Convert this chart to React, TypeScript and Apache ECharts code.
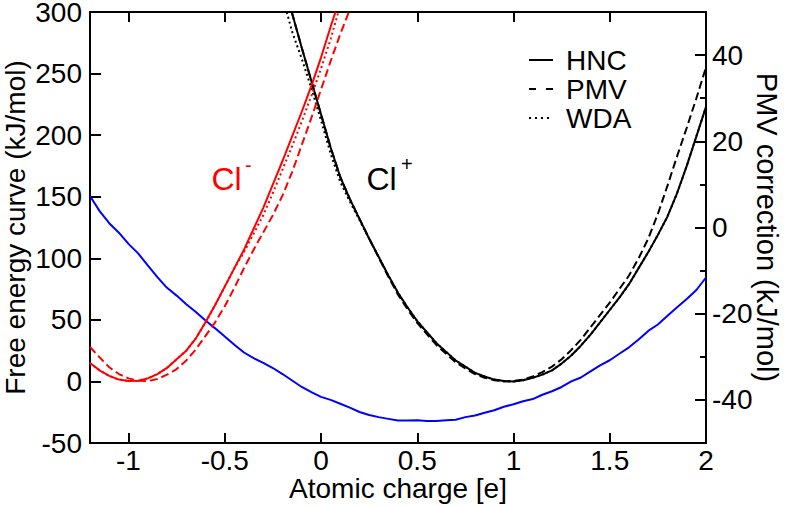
import React, { useEffect, useRef } from "react";
import * as echarts from "echarts";

const FONT = '"Liberation Sans", Arial, Helvetica, sans-serif';

// Tick values
const X_TICKS = [-1, -0.5, 0, 0.5, 1, 1.5, 2];
const Y_RIGHT_MAJOR = [-40, -20, 0, 20, 40];
const Y_RIGHT_MINOR = [-30, -10, 10, 30];

// Cl- (red) free energy curves, kJ/mol
const clMinusHncX = [-1.2, -1.15, -1.1, -1.05, -1, -0.95, -0.9, -0.85, -0.8, -0.75, -0.7, -0.65, -0.6, -0.55, -0.5, -0.45, -0.4, -0.35, -0.3, -0.25, -0.2, -0.15, -0.1, -0.05, 0, 0.05, 0.075];
const clMinusHnc = [15, 9, 4.5, 1.5, 0.3, 0.5, 2.5, 6, 11, 18, 25, 35, 48, 62, 77, 92, 107, 124, 141, 160, 179, 199, 219, 240, 263, 288, 300];

const clMinusPmvX = [-1.2, -1.15, -1.1, -1.05, -1, -0.95, -0.9, -0.85, -0.8, -0.75, -0.7, -0.65, -0.6, -0.55, -0.5, -0.45, -0.4, -0.35, -0.3, -0.25, -0.2, -0.15, -0.1, -0.05, 0, 0.05, 0.1, 0.145];
const clMinusPmv = [28, 19.5, 11.5, 6, 2.5, 0.5, 0.3, 2, 5.5, 10, 17, 26, 37, 48, 61, 76, 92, 107, 121, 135, 151, 170, 192, 214, 237, 260, 282, 300];

const clMinusWdaX = [-1.2, -1.15, -1.1, -1.05, -1, -0.95, -0.9, -0.85, -0.8, -0.75, -0.7, -0.65, -0.6, -0.55, -0.5, -0.45, -0.4, -0.35, -0.3, -0.25, -0.2, -0.15, -0.1, -0.05, 0, 0.05, 0.09];
const clMinusWda = [15, 9, 4.5, 1.5, 0.3, 0.5, 2.5, 6, 11, 18, 25, 35, 48, 62, 77, 92, 105, 120, 135, 153, 172, 191, 211, 232, 254, 278, 300];

// Cl+ (black) free energy curves, kJ/mol
const clPlusX = [-0.152, -0.1, -0.05, 0, 0.05, 0.1, 0.15, 0.2, 0.25, 0.3, 0.35, 0.4, 0.45, 0.5, 0.55, 0.6, 0.65, 0.7, 0.75, 0.8, 0.85, 0.9, 0.95, 1, 1.05, 1.1, 1.15, 1.2, 1.25, 1.3, 1.35, 1.4, 1.45, 1.5, 1.55, 1.6, 1.65, 1.7, 1.75, 1.8, 1.85, 1.9, 1.95, 2];
const clPlusHnc = [300, 271, 244, 217, 190, 166, 148, 132, 116, 101, 86, 72, 60, 49, 40, 31, 24, 17, 12, 7, 4, 1.5, 0.3, 0, 1, 3, 5.5, 9, 14.5, 21, 29, 38, 48, 58, 68, 79, 92, 105, 119, 134, 153, 175, 199, 223];
const clPlusPmv = [300, 271, 244, 217, 190, 166, 148, 132, 116, 100.5, 85, 70.5, 58.5, 47.5, 38.5, 29.5, 22.5, 15.5, 10.5, 6, 3, 1, 0, 0.3, 1.5, 4, 7.5, 12, 18, 25.5, 34, 44, 54, 64, 75, 86, 100, 116, 136, 159, 183, 206, 230, 255];

const clPlusWdaX = [-0.178, -0.15, -0.1, -0.05, 0, 0.05, 0.1, 0.15, 0.2, 0.25, 0.3, 0.35, 0.4, 0.45, 0.5, 0.55, 0.6, 0.65, 0.7, 0.75, 0.8, 0.85, 0.9, 0.95, 1, 1.05, 1.1, 1.15, 1.2, 1.25, 1.3, 1.35, 1.4, 1.45, 1.5, 1.55, 1.6, 1.65, 1.7, 1.75, 1.8, 1.85, 1.9, 1.95, 2];
const clPlusWda = [300, 284, 262, 238, 212, 185, 162, 146, 131, 116, 101, 86, 72, 60, 49, 40, 31, 24, 17, 12, 7, 4, 1.5, 0.3, 0, 1, 3, 5.5, 9, 14.5, 21, 29, 38, 48, 58, 68, 79, 92, 105, 119, 134, 153, 175, 199, 223];

// PMV correction (blue, right axis), kJ/mol
const pmvX = [-1.2, -1.15, -1.1, -1.05, -1, -0.95, -0.9, -0.85, -0.8, -0.75, -0.7, -0.65, -0.6, -0.55, -0.5, -0.45, -0.4, -0.35, -0.3, -0.25, -0.2, -0.15, -0.1, -0.05, 0, 0.05, 0.1, 0.15, 0.2, 0.25, 0.3, 0.35, 0.4, 0.45, 0.5, 0.55, 0.6, 0.65, 0.7, 0.75, 0.8, 0.85, 0.9, 0.95, 1, 1.05, 1.1, 1.15, 1.2, 1.25, 1.3, 1.35, 1.4, 1.45, 1.5, 1.55, 1.6, 1.65, 1.7, 1.75, 1.8, 1.85, 1.9, 1.95, 2];
const pmvCorrection = [7.3, 3.8, 1.0, -1.2, -3.8, -6.0, -8.8, -11.5, -14.0, -15.8, -17.8, -19.6, -21.6, -23.4, -25.3, -27.2, -29.0, -30.3, -31.4, -32.6, -34.0, -35.5, -37.0, -38.2, -39.3, -40.0, -40.9, -41.8, -42.8, -43.5, -44.0, -44.4, -44.8, -44.8, -44.7, -44.9, -44.9, -44.7, -44.6, -44.0, -43.6, -43.0, -42.4, -41.6, -41.0, -40.3, -39.8, -38.8, -38.0, -37.0, -35.7, -34.8, -33.4, -32.0, -30.8, -29.3, -27.8, -26.0, -24.0, -22.5, -20.5, -18.5, -16.6, -14.5, -11.6];

const DASH: number[] = [8, 4];
const DOT: number[] = [2, 3];
const LEGEND_DASH: number[] = [7, 10];
const LEGEND_DOT: number[] = [2, 4];

function zip(xs: number[], ys: number[]) {
  return xs.map((x, i) => [x, ys[i]]);
}

function curve(name: string, xs: number[], ys: number[], color: string, type: any, yAxisIndex = 0) {
  return {
    name,
    type: "line",
    data: zip(xs, ys),
    yAxisIndex,
    symbol: "none",
    smooth: false,
    clip: true,
    lineStyle: { color, width: 2, type },
    itemStyle: { color },
    emphasis: { disabled: true },
    silent: true,
  };
}

function legendSeries(name: string, type: any) {
  return {
    name,
    type: "line",
    data: [],
    symbol: "none",
    lineStyle: { color: "#000", width: 2, type },
    itemStyle: { color: "#000" },
  };
}

export default function App() {
  const ref = useRef<HTMLDivElement>(null);

  useEffect(() => {
    if (!ref.current) return;
    const chart = echarts.init(ref.current, undefined, { renderer: "svg" });

    const axisLine = { show: true, onZero: false, lineStyle: { color: "#000", width: 2 } };
    const tickStyle = { color: "#000", width: 2 };
    const labelStyle = { color: "#000", fontSize: 28, fontFamily: FONT, lineHeight: 22 };

    const option: any = {
      animation: false,
      backgroundColor: "#fff",
      grid: { left: 90, right: 83, top: 12, bottom: 63, containLabel: false, outerBoundsMode: "none" },
      legend: {
        data: [
          { name: "HNC", lineStyle: { type: "solid" } },
          { name: "PMV", lineStyle: { type: LEGEND_DASH } },
          { name: "WDA", lineStyle: { type: LEGEND_DOT } },
        ],
        orient: "vertical",
        left: 528,
        top: 46,
        padding: 0,
        itemWidth: 24,
        itemHeight: 14,
        itemGap: 1,
        selectedMode: false,
        itemStyle: { color: "rgba(0,0,0,0)", borderWidth: 0, opacity: 0 },
        textStyle: { color: "#000", fontSize: 28, fontFamily: FONT, lineHeight: 28, padding: [0, 0, 0, 8] },
      },
      xAxis: [
        {
          type: "value",
          min: -1.2,
          max: 2,
          position: "bottom",
          axisLine,
          axisTick: { show: true, inside: true, length: 10, lineStyle: tickStyle, customValues: X_TICKS },
          axisLabel: { ...labelStyle, margin: 6, customValues: X_TICKS },
          splitLine: { show: false },
          name: "Atomic charge [e]",
          nameLocation: "middle",
          nameGap: 34,
          nameMoveOverlap: false,
          nameTextStyle: { ...labelStyle },
        },
        {
          type: "value",
          min: -1.2,
          max: 2,
          position: "top",
          axisLine,
          axisTick: { show: true, inside: true, length: 10, lineStyle: tickStyle, customValues: X_TICKS },
          axisLabel: { show: false },
          splitLine: { show: false },
        },
      ],
      yAxis: [
        {
          type: "value",
          min: -50,
          max: 300,
          interval: 50,
          position: "left",
          axisLine,
          axisTick: { show: true, inside: true, length: 11, lineStyle: tickStyle },
          axisLabel: { ...labelStyle, margin: 8 },
          splitLine: { show: false },
          name: "Free energy curve (kJ/mol)",
          nameLocation: "middle",
          nameRotate: 90,
          nameGap: 64,
          nameMoveOverlap: false,
          nameTextStyle: { ...labelStyle },
        },
        {
          type: "value",
          min: -50,
          max: 50,
          position: "right",
          axisLine,
          axisTick: { show: true, inside: true, length: 11, lineStyle: tickStyle, customValues: Y_RIGHT_MAJOR },
          axisLabel: { ...labelStyle, margin: 6, customValues: Y_RIGHT_MAJOR },
          splitLine: { show: false },
          name: "PMV correction (kJ/mol)",
          nameLocation: "middle",
          nameRotate: -90,
          nameGap: 50,
          nameMoveOverlap: false,
          nameTextStyle: { ...labelStyle, fontSize: 29 },
        },
        {
          type: "value",
          min: -50,
          max: 50,
          position: "right",
          axisLine: { show: false, onZero: false },
          axisTick: { show: true, inside: true, length: 6, lineStyle: tickStyle, customValues: Y_RIGHT_MINOR },
          axisLabel: { show: false },
          splitLine: { show: false },
        },
      ],
      series: [
        curve("PMV correction", pmvX, pmvCorrection, "#0000ff", "solid", 1),
        curve("Cl+ WDA", clPlusWdaX, clPlusWda, "#000000", DOT),
        curve("Cl+ PMV", clPlusX, clPlusPmv, "#000000", DASH),
        curve("Cl+ HNC", clPlusX, clPlusHnc, "#000000", "solid"),
        curve("Cl- WDA", clMinusWdaX, clMinusWda, "#ff0000", DOT),
        curve("Cl- PMV", clMinusPmvX, clMinusPmv, "#ff0000", DASH),
        curve("Cl- HNC", clMinusHncX, clMinusHnc, "#ff0000", "solid"),
        legendSeries("HNC", "solid"),
        legendSeries("PMV", LEGEND_DASH),
        legendSeries("WDA", LEGEND_DOT),
      ],
      graphic: [
        { type: "text", x: 211.5, y: 178.5, silent: true, style: { text: "Cl", fill: "#ff0000", font: `32px ${FONT}`, align: "left", verticalAlign: "middle" } },
        { type: "text", x: 245, y: 164.5, silent: true, style: { text: "-", fill: "#ff0000", font: `20px ${FONT}`, align: "left", verticalAlign: "middle" } },
        { type: "text", x: 366.5, y: 178.5, silent: true, style: { text: "Cl", fill: "#000000", font: `32px ${FONT}`, align: "left", verticalAlign: "middle" } },
        { type: "text", x: 401, y: 164, silent: true, style: { text: "+", fill: "#000000", font: `20px ${FONT}`, align: "left", verticalAlign: "middle" } },
      ],
    };

    chart.setOption(option);
    return () => chart.dispose();
  }, []);

  return (
    <div
      ref={ref}
      style={{ position: "fixed", left: 0, top: 0, width: 789, height: 506, background: "#fff" }}
    />
  );
}
